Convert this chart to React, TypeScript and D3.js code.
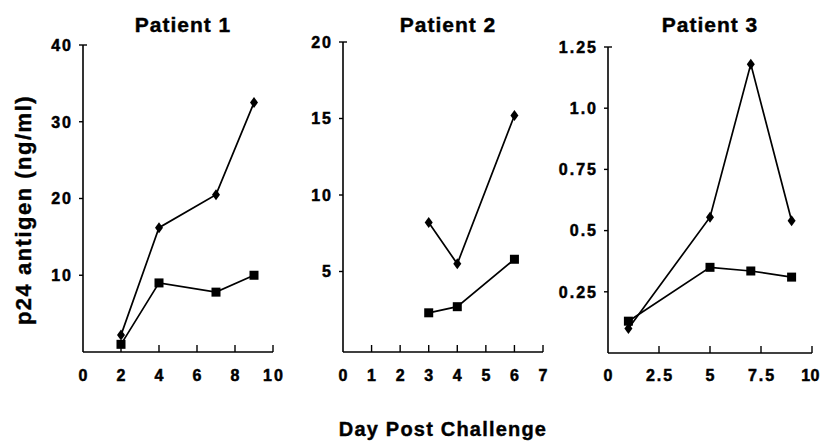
import React from "react";
import * as d3 from "d3";

const p1Days = [2, 4, 7, 9];
const p1Diamond = [2.2, 16.2, 20.5, 32.5];
const p1Square = [1.0, 9.0, 7.8, 10.0];

const p2Days = [3, 4, 6];
const p2Diamond = [8.2, 5.5, 15.2];
const p2Square = [2.3, 2.7, 5.8];

const p3Days = [1, 5, 7, 9];
const p3Diamond = [0.1, 0.555, 1.18, 0.54];
const p3Square = [0.13, 0.35, 0.335, 0.31];

const p1XTicks = [0, 2, 4, 6, 8, 10];
const p1YTicks = [10, 20, 30, 40];
const p2XTicks = [0, 1, 2, 3, 4, 5, 6, 7];
const p2YTicks = [5, 10, 15, 20];
const p3XTicks = [0, 2.5, 5, 7.5, 10];
const p3YTicks = [0.25, 0.5, 0.75, 1.0, 1.25];
const p3YLabels = ["0.25", "0.5", "0.75", "1.0", "1.25"];

const titles = ["Patient 1", "Patient 2", "Patient 3"];

const FONT = "'Liberation Sans', Arial, Helvetica, sans-serif";
const WIDTH = 822;

type PanelProps = {
  title: string;
  x0: number;
  x1: number;
  xMax: number;
  yTop: number;
  yBottom: number;
  yMax: number;
  axisY: number;
  xTicks: number[];
  yTicks: number[];
  yLabels?: string[];
  days: number[];
  diamond: number[];
  square: number[];
  titleX: number;
};

function Panel(p: PanelProps) {
  const x = d3.scaleLinear().domain([0, p.xMax]).range([p.x0, p.x1]);
  const y = d3.scaleLinear().domain([0, p.yMax]).range([p.yBottom, p.yTop]);
  const line = d3
    .line<[number, number]>()
    .x((d) => x(d[0]))
    .y((d) => y(d[1]));
  const dPts: [number, number][] = p.days.map((d, i) => [d, p.diamond[i]]);
  const sPts: [number, number][] = p.days.map((d, i) => [d, p.square[i]]);
  const topY = y(p.yMax);
  return (
    <g>
      <text
        x={p.titleX}
        y={32}
        textAnchor="middle"
        fontFamily={FONT}
        fontWeight="bold"
        fontSize={21}
        letterSpacing={1}
        stroke="#000"
        strokeWidth={0.4}
      >
        {p.title}
      </text>
      <line x1={p.x0} x2={p.x0} y1={topY} y2={p.axisY} stroke="#000" strokeWidth={1.6} />
      <line x1={p.x0} x2={p.x1} y1={p.axisY} y2={p.axisY} stroke="#000" strokeWidth={1.6} />
      <line x1={p.x0} x2={p.x0 + 4} y1={topY} y2={topY} stroke="#000" strokeWidth={1.4} />
      {p.yTicks.map((t, i) => (
        <g key={"y" + i}>
          <line x1={p.x0 - 4} x2={p.x0} y1={y(t)} y2={y(t)} stroke="#000" strokeWidth={1.4} />
          <text
            x={p.x0 - 10}
            y={y(t)}
            dy="0.36em"
            textAnchor="end"
            fontFamily={FONT}
            fontWeight="bold"
            fontSize={16}
            letterSpacing={2}
            stroke="#000"
            strokeWidth={0.5}
          >
            {p.yLabels ? p.yLabels[i] : String(t)}
          </text>
        </g>
      ))}
      {p.xTicks.map((t, i) => {
        const label = String(t);
        const cx = x(t) + 1;
        const halfW = label.length * 5.5;
        const overflow = cx + halfW > WIDTH - 1;
        return (
          <g key={"x" + i}>
            {t > 0 && (
              <line x1={x(t)} x2={x(t)} y1={p.axisY} y2={p.axisY - 7} stroke="#000" strokeWidth={1.4} />
            )}
            <text
              x={overflow ? WIDTH - 2 : cx}
              y={381}
              textAnchor={overflow ? "end" : "middle"}
              fontFamily={FONT}
              fontWeight="bold"
              fontSize={16}
              letterSpacing={overflow ? 0.5 : 2}
              stroke="#000"
              strokeWidth={0.5}
            >
              {label}
            </text>
          </g>
        );
      })}
      <path d={line(dPts) || ""} fill="none" stroke="#000" strokeWidth={1.7} />
      <path d={line(sPts) || ""} fill="none" stroke="#000" strokeWidth={1.7} />
      {dPts.map((d, i) => {
        const cx = x(d[0]);
        const cy = y(d[1]);
        return (
          <path
            key={"d" + i}
            d={`M${cx},${cy - 5.5}L${cx + 4},${cy}L${cx},${cy + 5.5}L${cx - 4},${cy}Z`}
            fill="#000"
          />
        );
      })}
      {sPts.map((d, i) => (
        <rect key={"s" + i} x={x(d[0]) - 4.5} y={y(d[1]) - 4.5} width={9} height={9} fill="#000" />
      ))}
    </g>
  );
}

export default function App() {
  return (
    <svg width={822} height={442} style={{ display: "block", position: "absolute", left: 0, top: 0, background: "#fff" }}>
      <rect width={822} height={442} fill="#fff" />
      <Panel
        title={titles[0]}
        titleX={183}
        x0={83}
        x1={273}
        xMax={10}
        yTop={45}
        yBottom={352}
        yMax={40}
        axisY={352}
        xTicks={p1XTicks}
        yTicks={p1YTicks}
        days={p1Days}
        diamond={p1Diamond}
        square={p1Square}
      />
      <Panel
        title={titles[1]}
        titleX={448}
        x0={343}
        x1={543}
        xMax={7}
        yTop={42}
        yBottom={348}
        yMax={20}
        axisY={352}
        xTicks={p2XTicks}
        yTicks={p2YTicks}
        days={p2Days}
        diamond={p2Diamond}
        square={p2Square}
      />
      <Panel
        title={titles[2]}
        titleX={710}
        x0={608}
        x1={812}
        xMax={10}
        yTop={47}
        yBottom={353}
        yMax={1.25}
        axisY={353}
        xTicks={p3XTicks}
        yTicks={p3YTicks}
        yLabels={p3YLabels}
        days={p3Days}
        diamond={p3Diamond}
        square={p3Square}
      />
      <text
        transform="translate(31,210) rotate(-90)"
        textAnchor="middle"
        fontFamily={FONT}
        fontWeight="bold"
        fontSize={22}
        letterSpacing={1.5}
        stroke="#000"
        strokeWidth={0.4}
      >
        p24  antigen  (ng/ml)
      </text>
      <text
        x={443}
        y={436}
        textAnchor="middle"
        fontFamily={FONT}
        fontWeight="bold"
        fontSize={20}
        letterSpacing={1.2}
        stroke="#000"
        strokeWidth={0.4}
      >
        Day Post Challenge
      </text>
    </svg>
  );
}
